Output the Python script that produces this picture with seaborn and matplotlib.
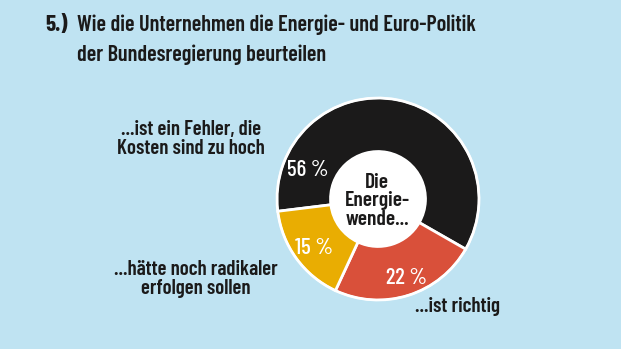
import matplotlib
matplotlib.use("Agg")
import matplotlib.pyplot as plt
import seaborn as sns

sns.set_style("white")
plt.rcParams['font.family'] = ['Barlow Condensed', 'DejaVu Sans']
plt.rcParams['font.weight'] = 600

categories = ["...ist ein Fehler, die\nKosten sind zu hoch", "...ist richtig", "...hätte noch radikaler\nerfolgen sollen"]
values = [56, 22, 15]
pct_labels = ["56 %", "22 %", "15 %"]
colors = ["#1b1a1a", "#d9503a", "#e9ad02"]
bg = "#bfe3f2"
ink = "#1b1a1a"
W, H = 621, 349

fig = plt.figure(figsize=(W / 100, H / 100), dpi=100, facecolor=bg)
cx, cy, R = 378, 199, 103
ax = fig.add_axes([(cx - R) / W, (H - cy - R) / H, 2 * R / W, 2 * R / H])
ax.set_facecolor(bg)
ax.pie(values, colors=colors, startangle=187, counterclock=False, radius=1,
       wedgeprops=dict(width=0.53, edgecolor="white", linewidth=2))
ax.add_patch(plt.Circle((0, 0), 0.47, facecolor="white", edgecolor="white", zorder=3))
ax.add_patch(plt.Circle((0, 0), 1.0, facecolor="none", edgecolor="white", linewidth=1.5, zorder=4))
ax.set_xlim(-1.02, 1.02)
ax.set_ylim(-1.02, 1.02)
ax.set_aspect("equal")
ax.axis("off")

def px(x, y):
    return x / W, 1 - y / H

# percentage labels (positions in pixels)
for lab, (x, y) in zip(pct_labels, [(308, 170), (406, 278), (314, 248)]):
    fig.text(*px(x, y), lab, color="white", fontsize=16.5, fontweight=500,
             ha="center", va="center")

fig.text(*px(377, 201), "Die\nEnergie-\nwende...", color=ink, fontsize=15.5,
         ha="center", va="center", linespacing=0.98)

# title
tsize = 16
fig.text(*px(45, 25), "5.)", fontsize=tsize + 0.5, fontweight="bold", color=ink, va="center")
fig.text(*px(77, 25), "Wie die Unternehmen die Energie- und Euro-Politik", fontsize=tsize,
         color=ink, va="center")
fig.text(*px(77, 55), "der Bundesregierung beurteilen", fontsize=tsize,
         color=ink, va="center")

# category labels
fig.text(*px(191, 139), categories[0], fontsize=15, ha="center", va="center",
         color=ink, linespacing=0.95)
fig.text(*px(457, 307), categories[1], fontsize=15, ha="center", va="center",
         color=ink)
fig.text(*px(196, 279), categories[2], fontsize=15, ha="center", va="center",
         color=ink, linespacing=0.95)

fig.savefig("out.png", dpi=100, facecolor=bg)
